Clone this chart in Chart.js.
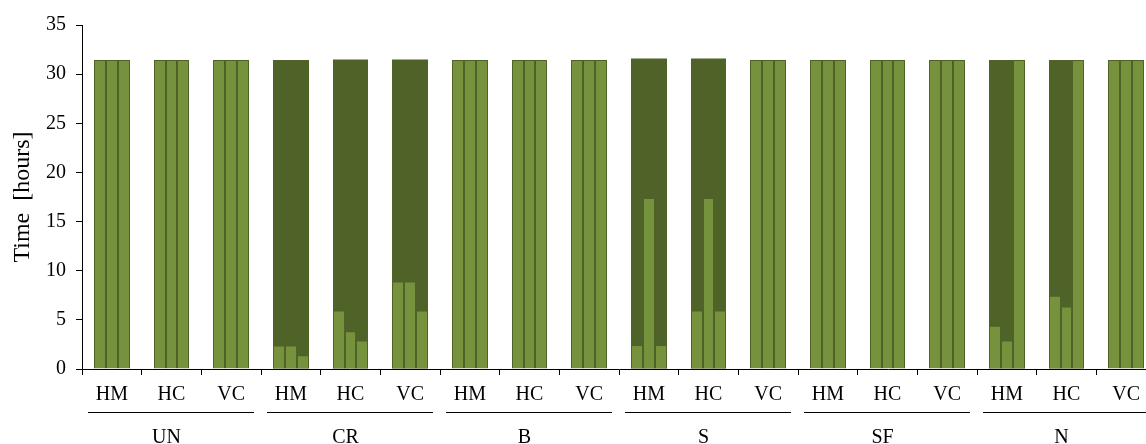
<!DOCTYPE html>
<html>
<head>
<meta charset="utf-8">
<script src="https://cdn.jsdelivr.net/npm/chart.js@4/dist/chart.umd.min.js"></script>
<style>
  html, body { margin: 0; padding: 0; background: #ffffff; overflow: hidden; }
  #wrap { position: relative; width: 1157px; height: 444px; }
</style>
</head>
<body>
<div id="wrap"><canvas id="c"></canvas></div>
<script>
const groups = ['UN', 'CR', 'B', 'S', 'SF', 'N'];
const subLabels = ['HM', 'HC', 'VC'];
const categories = groups.flatMap(() => subLabels);

const bar1 = [31.45, 31.45, 31.45,  2.4, 5.95, 8.9,   31.45, 31.45, 31.45,  2.45, 5.95, 31.45,  31.45, 31.45, 31.45,  4.4, 7.45, 31.45];
const bar2 = [31.45, 31.45, 31.45,  2.4, 3.85, 8.9,   31.45, 31.45, 31.45,  17.4, 17.4, 31.45,  31.45, 31.45, 31.45,  2.9, 6.35, 31.45];
const bar3 = [31.45, 31.45, 31.45,  1.4, 2.9, 5.95,   31.45, 31.45, 31.45,  2.45, 5.95, 31.45,  31.45, 31.45, 31.45,  31.45, 31.45, 31.45];
const total = [null, null, null,    31.45, 31.5, 31.5, null, null, null,    31.6, 31.6, null,     null, null, null,     31.45, 31.45, null];

const yTicks = [0, 5, 10, 15, 20, 25, 30, 35];

const LIGHT = '#76923C';
const DARK = '#4F6228';
const FONT = 'Liberation Serif';

// snap bar edges to whole pixels so adjacent bars meet without seams
const snapPlugin = {
  id: 'snapBars',
  beforeDatasetsDraw(chart) {
    chart.getSortedVisibleDatasetMetas().forEach(meta => {
      meta.data.forEach(el => {
        if (!el || el.width == null) return;
        const left = Math.round(el.x - el.width / 2);
        const right = Math.round(el.x + el.width / 2);
        el.width = right - left;
        el.x = left + el.width / 2;
      });
    });
  }
};

const groupLabelPlugin = {
  id: 'groupLabels',
  afterDraw(chart) {
    const x = chart.scales.x;
    const ctx = chart.ctx;
    const w = (x.right - x.left) / categories.length;
    ctx.save();
    ctx.strokeStyle = '#000';
    ctx.lineWidth = 1;
    ctx.fillStyle = '#000';
    ctx.font = '20px "' + FONT + '"';
    ctx.textAlign = 'center';
    ctx.textBaseline = 'middle';
    groups.forEach((g, gi) => {
      const first = gi * subLabels.length;
      const last = first + subLabels.length - 1;
      const start = x.getPixelForValue(first) - w / 2;
      const end = x.getPixelForValue(last) + w / 2;
      ctx.beginPath();
      ctx.moveTo(start + 6, 412.5);
      ctx.lineTo(end - 7, 412.5);
      ctx.stroke();
      ctx.fillText(g, (start + end) / 2 - 5, 438);
    });
    ctx.restore();
  }
};

const lightDs = (data) => ({
  data: data,
  backgroundColor: LIGHT,
  borderColor: DARK,
  borderWidth: 1,
  borderSkipped: 'bottom',
  categoryPercentage: 0.6,
  barPercentage: 1.0,
  order: 0
});

new Chart(document.getElementById('c'), {
  type: 'bar',
  data: {
    labels: categories,
    datasets: [
      {
        data: total,
        backgroundColor: DARK,
        borderWidth: 0,
        grouped: false,
        categoryPercentage: 0.6,
        barPercentage: 1.0,
        order: 1
      },
      lightDs(bar1),
      lightDs(bar2),
      lightDs(bar3)
    ]
  },
  options: {
    responsive: true,
    maintainAspectRatio: false,
    animation: false,
    devicePixelRatio: 1,
    layout: { padding: { left: 0, right: 1, top: 25, bottom: 0 } },
    plugins: { legend: { display: false }, tooltip: { enabled: false } },
    scales: {
      x: {
        type: 'category',
        offset: true,
        grid: { display: true, drawOnChartArea: false, drawTicks: true, tickLength: 6, color: '#000', offset: true },
        border: { display: true, color: '#000', width: 1 },
        ticks: { color: '#000', font: { family: FONT, size: 20 }, padding: 8, maxRotation: 0, autoSkip: false },
        afterFit(scale) { scale.height = 75; }
      },
      y: {
        min: 0,
        max: 35,
        afterBuildTicks(scale) { scale.ticks = yTicks.map(v => ({ value: v })); },
        grid: { display: true, drawOnChartArea: false, drawTicks: true, tickLength: 6, color: '#000' },
        border: { display: true, color: '#000', width: 1 },
        ticks: { color: '#000', font: { family: FONT, size: 20 }, padding: 10 },
        title: { display: true, text: 'Time  [hours]', color: '#000', font: { family: FONT, size: 24 }, padding: { top: 8, bottom: 0 } },
        afterFit(scale) { scale.width = 82; }
      }
    }
  },
  plugins: [snapPlugin, groupLabelPlugin]
});
</script>
</body>
</html>
